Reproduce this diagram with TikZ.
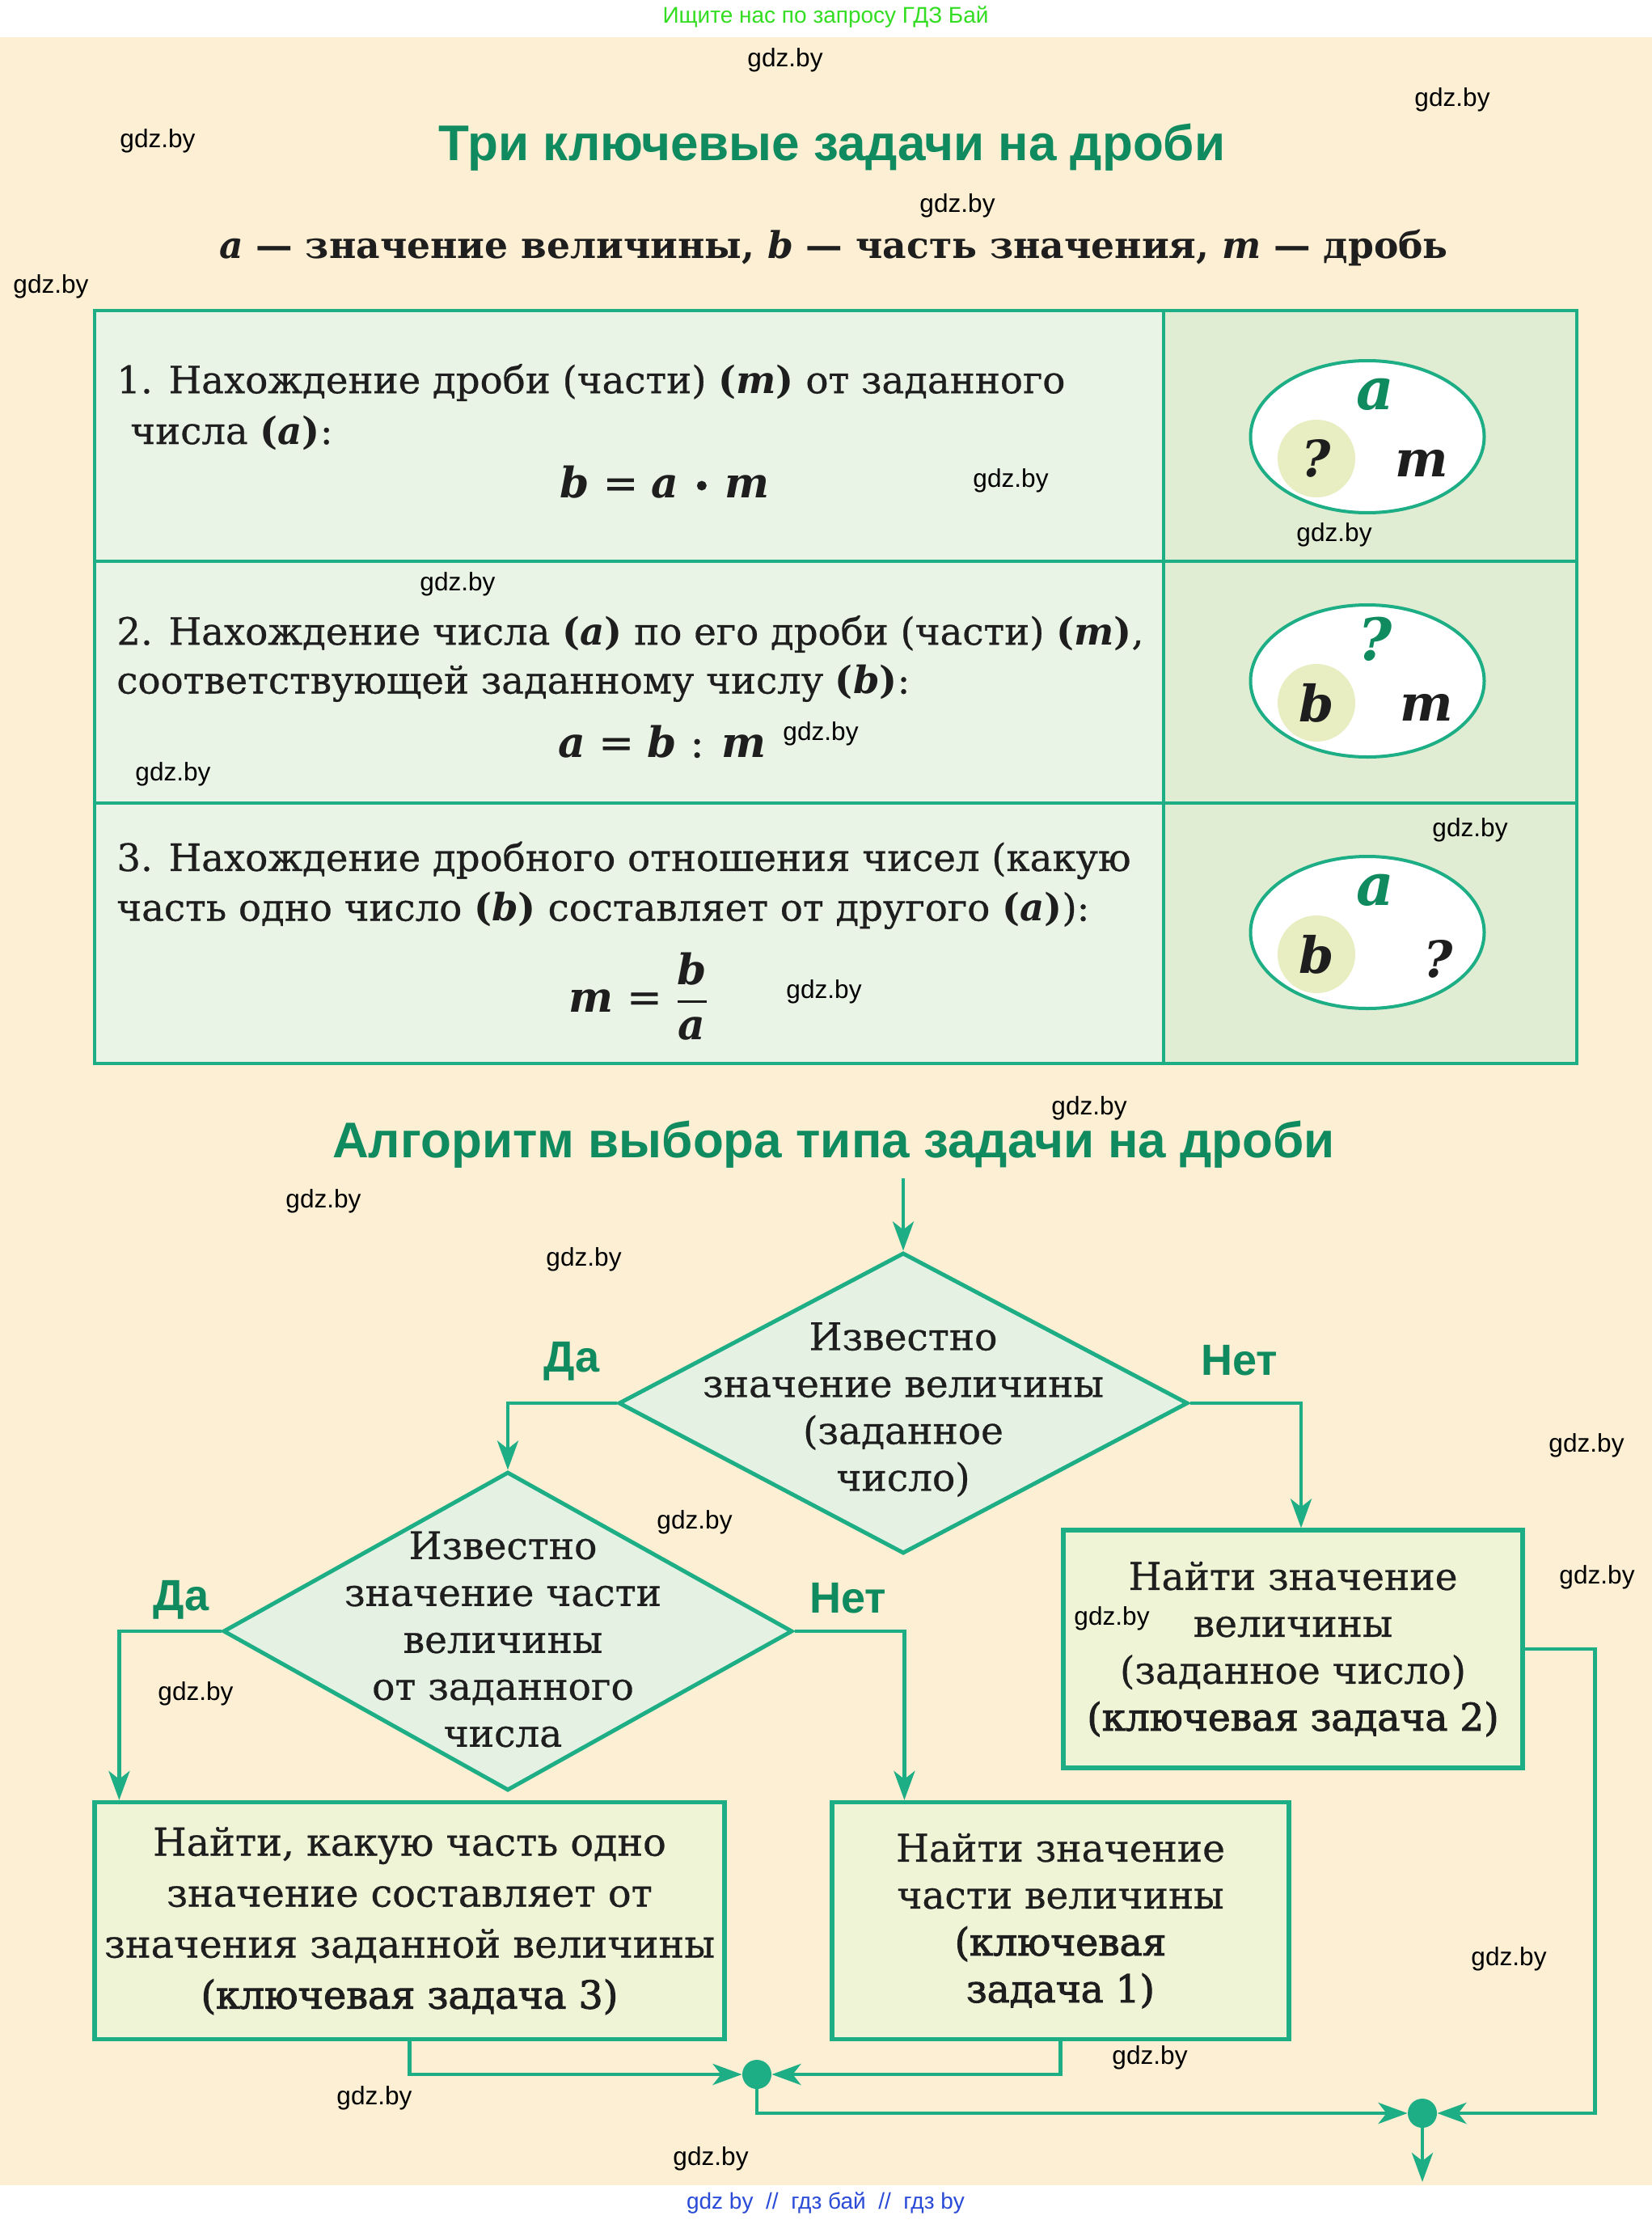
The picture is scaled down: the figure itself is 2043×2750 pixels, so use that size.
\documentclass[tikz,border=0pt]{standalone}
\usepackage{amsmath}
\usepackage{fontspec}
\setmainfont{DejaVu Serif}[UprightFeatures={FakeBold=0.6}]
\newfontfamily\headfont{Liberation Sans}
\newfontfamily\heavyfont{DejaVu Serif}[FakeBold=2.2]
\usepackage{xcolor}
\usepackage{tikz}
\usetikzlibrary{positioning,arrows.meta,shapes.geometric}
\definecolor{paper}{HTML}{FCEFD3}
\definecolor{rim}{HTML}{1DAE86}
\definecolor{cellL}{HTML}{EAF4E6}
\definecolor{cellR}{HTML}{E1EDD3}
\definecolor{askfill}{HTML}{E5F2E3}
\definecolor{boxfill}{HTML}{EFF4D7}
\definecolor{spotfill}{HTML}{E8EEC2}
\definecolor{headgreen}{HTML}{0F8B5F}
\definecolor{ink}{HTML}{1E1E1E}
\definecolor{topgreen}{HTML}{33DD22}
\definecolor{linkblue}{HTML}{2A4BD7}
\newcommand{\bvar}[1]{\textbf{\textit{#1}}}
\newcommand{\bpar}[1]{\textbf{(\textit{#1})}}

\begin{document}
\begin{tikzpicture}[x=0.5pt, y=-0.5pt, font=\fontsize{23.3}{31}\selectfont, text=ink,
		tableline/.style={draw=rim, line width=2.2pt},
		rowtext/.style={anchor=west, inner sep=0pt},
		formula/.style={inner sep=0pt, font=\fontsize{26}{30}\selectfont},
		heading/.style={font=\headfont\bfseries\fontsize{31}{36}\selectfont, text=headgreen},
		oval/.style={ellipse, draw=rim, line width=2pt, fill=white,
			minimum width=144.5pt, minimum height=94pt, inner sep=0pt},
		spot/.style={circle, fill=spotfill, minimum size=48pt, inner sep=0pt},
		bigletter/.style={font=\bfseries\itshape\fontsize{36}{40}\selectfont, text=headgreen},
		letter/.style={font=\bfseries\itshape\fontsize{31}{34}\selectfont},
		decision/.style={diamond, draw=rim, line width=2.5pt, fill=askfill, inner sep=0pt},
		asktext/.style={align=center, font=\fontsize{23.5}{29}\selectfont},
		task/.style={rectangle, draw=rim, line width=2.6pt, fill=boxfill, align=center,
			inner sep=2pt, font=\fontsize{23.5}{29}\selectfont},
		answer/.style={font=\headfont\bfseries\fontsize{27}{30}\selectfont, text=headgreen},
		flow/.style={draw=rim, line width=2.4pt, -{Stealth[length=18pt, width=13pt, inset=5pt]}},
		joint/.style={circle, fill=rim, minimum size=18pt, inner sep=0pt},
		wmark/.style={font=\headfont\fontsize{15.8}{18}\selectfont, text=black}]
		% page: white strips top and bottom, beige sheet
		\fill[white] (0,0) rectangle (2043,2750);
		\fill[paper] (0,46) rectangle (2043,2702);
		\node[font=\headfont\fontsize{14}{16}\selectfont, text=topgreen] (toptag) at (1021,21)
		{Ищите нас по запросу ГДЗ Бай};
		\node[font=\headfont\fontsize{14}{16}\selectfont, text=linkblue] (foot) at (1021,2724)
		{gdz by \ // \ гдз бай \ // \ гдз by};
		% titles
		\node[heading] (title1) at (1029,182) {Три ключевые задачи на дроби};
		\node[font=\bfseries\fontsize{22.8}{26}\selectfont] (legend) at (1031,307)
		{\bvar{a} — значение величины, \bvar{b} — часть значения, \bvar{m} — дробь};
		% table of the three key tasks
		\fill[cellL] (117,384) rectangle (1439,1315);
		\fill[cellR] (1439,384) rectangle (1950,1315);
		\draw[tableline] (117,384) rectangle (1950,1315);
		\draw[tableline] (1439,384) -- (1439,1315);
		\draw[tableline] (117,694) -- (1950,694);
		\draw[tableline] (117,993) -- (1950,993);
		% row 1
		\node[rowtext] (r1a) at (144,473) {1. Нахождение дроби (части) \bpar{m} от заданного};
		\node[rowtext] (r1b) at (161,535) {числа \bpar{a}:};
		\node[formula] (f1) at (822,596)
		{\bvar{b} = \bvar{a} {\fontsize{20}{20}\selectfont •} \bvar{m}};
		% row 2
		\node[rowtext] (r2a) at (144,784) {2. Нахождение числа \bpar{a} по его дроби (части) \bpar{m},};
		\node[rowtext] (r2b) at (144,845) {соответствующей заданному числу \bpar{b}:};
		\node[formula] (f2) at (819,917) {\bvar{a} = \bvar{b} : \bvar{m}};
		% row 3
		\node[rowtext] (r3a) at (144,1064) {3. Нахождение дробного отношения чисел (какую};
		\node[rowtext] (r3b) at (144,1126) {часть одно число \bpar{b} составляет от другого \bpar{a}):};
		\node[formula] (f3) at (790,1232)
		{\bvar{m} = $\genfrac{}{}{1.3pt}{0}{\text{\bvar{b}}}{\text{\bvar{a}}}$};
		% pictures: whole a, part b, fraction m
		\foreach \y/\top/\inner/\side/\dx [count=\k] in
			{540/a/?/m/67, 842/?/b/m/73, 1153/a/b/?/88} {
			\node[oval] (oval\k) at (1691,\y) {};
			\node[spot, letter] (spot\k) at (1628,\y+27) {\inner};
			\node[bigletter] (top\k) at (1701,\y-52) {\top};
			\node[letter] (side\k) at (1691+\dx,\y+33) {\side};
		}
		% algorithm
		\node[heading] (title2) at (1031,1415) {Алгоритм выбора типа задачи на дроби};
		\coordinate (start) at (1117,1457);
		\node[decision, minimum width=352pt, minimum height=186pt] (q1) at (1117,1735) {};
		\node[asktext] (q1text) at (1117,1743)
		{Известно\\значение величины\\(заданное\\число)};
		\node[decision, minimum width=352pt, minimum height=197pt] (q2) at (628,2017) {};
		\node[asktext] (q2text) at (622,2027)
		{Известно\\значение части\\величины\\от заданного\\числа};
		\node[task, minimum width=284pt, minimum height=147pt] (k2) at (1599,2039)
		{Найти значение\\величины\\(заданное число)\\{\heavyfont(ключевая задача 2)}};
		\node[task, minimum width=389.5pt, minimum height=146.5pt,
			font=\fontsize{23.8}{31.5}\selectfont] (k3) at (506.5,2375)
		{Найти, какую часть одно\\значение составляет от\\значения заданной величины\\{\heavyfont(ключевая задача 3)}};
		\node[task, minimum width=282.5pt, minimum height=146.5pt] (k1) at (1311.5,2375)
		{Найти значение\\части величины\\{\heavyfont(ключевая}\\{\heavyfont задача 1)}};
		\node[answer] (yes1) at (707,1683) {Да};
		\node[answer] (no1) at (1533,1682) {Нет};
		\node[answer] (yes2) at (224,1978) {Да};
		\node[answer] (no2) at (1049,1976) {Нет};
		\node[joint] (j1) at (936,2565) {};
		\node[joint] (j2) at (1759,2613) {};
		\coordinate (finish) at (1759,2698);
		% connectors
		\draw[flow] (start) -- (q1.north);
		\draw[flow] (q1.west) -| (q2.north);
		\draw[flow] (q1.east) -| ([xshift=5pt]k2.north);
		\draw[flow] (q2.west) -| ([xshift=16.5pt]k3.north west);
		\draw[flow] (q2.east) -| ([xshift=46pt]k1.north west);
		\draw[flow] (k3.south) |- (j1);
		\draw[flow] (k1.south) |- (j1);
		\draw[flow] (j1) |- (j2);
		\draw[flow] (k2.east) -- ++(87,0) |- (j2);
		\draw[flow] (j2) -- (finish);
		% watermarks
		\foreach \x/\y [count=\n] in {971/74, 1796/123, 195/174, 1184/254, 63/354,
			1250/594, 1650/661, 566/722, 1015/907, 214/957, 1818/1026, 1019/1226,
			1347/1370, 400/1485, 722/1557, 1962/1787, 859/1882, 1975/1950,
			1375/2001, 242/2094, 1866/2422, 1422/2544, 463/2594, 879/2669}
		\node[wmark] (wm\n) at (\x,\y) {gdz.by};
	\end{tikzpicture}
\end{document}
